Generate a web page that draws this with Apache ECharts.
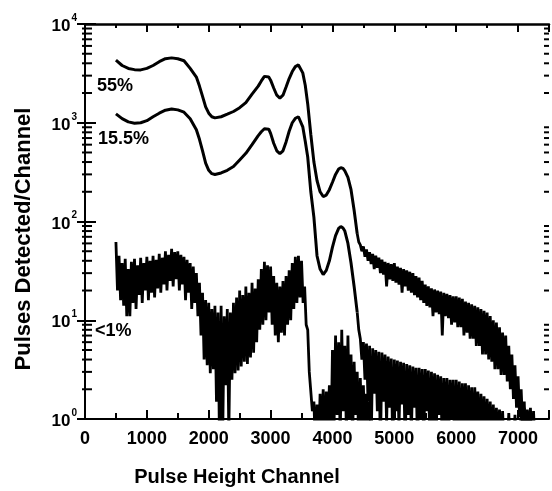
<!DOCTYPE html>
<html>
<head>
<meta charset="utf-8">
<script src="https://cdn.jsdelivr.net/npm/echarts@6/dist/echarts.min.js"></script>
<style>
html,body{margin:0;padding:0;background:#fff;}
#chart{width:552px;height:491px;background:#fff;}
</style>
</head>
<body>
<div id="chart"></div>
<script>
// ---------- DATA ----------
// smooth parts of the two upper spectra (channel, counts)
const smoothChannels = [500,600,700,800,900,1000,1100,1200,1300,1400,1500,1600,1700,1800,1850,1900,1950,2000,2050,2100,2200,2300,2400,2500,2600,2700,2800,2850,2900,2930,2970,3000,3050,3100,3150,3200,3250,3300,3350,3400,3450,3480,3520,3560,3600,3650,3700,3750,3800,3850,3900,3950,4000,4050,4100,4135,4170,4200,4250,4300,4350,4400];
const smooth55 = [4300,3800,3550,3450,3430,3550,3800,4150,4450,4540,4450,4250,3550,2900,2350,1850,1450,1250,1150,1120,1150,1220,1300,1420,1600,1950,2350,2650,2950,2985,2900,2700,2250,1900,1780,1900,2300,2800,3300,3700,3850,3800,3200,2400,1550,760,400,260,200,179,185,210,250,300,340,351,345,325,280,210,130,75];
const smooth155 = [1230,1100,1020,990,1000,1050,1150,1250,1340,1380,1350,1280,1100,850,680,520,390,330,305,299,310,330,360,420,490,600,740,810,870,890,860,780,620,520,486,520,640,820,1000,1110,1150,1120,910,650,450,200,110,45,33,29,32,40,55,72,85,89,86,80,60,38,22,12];

// noisy tails, one value every 25 channels
const tailStep = 25;
const tail55Start = 4425;
const tail55 = [62,58,50,56,44,52,40,49,37,47,33,45,34,43,30,41,29,39,22,38,26,37,25,38,24,35,23,34,19,33,22,32,20,31,19,30,18,28,17,27,16,25,15,23,14,22,13.5,21,11,20.5,12,20,11.5,19.5,7,19,11,18.5,10.5,18,9,17.5,9.5,17.5,8.5,17,8.5,16.5,7,15.5,7.5,15,6.5,14.5,6.5,14,5.5,13.5,5.5,13,4.5,12.5,4.5,12,4,11,3.8,10,3.2,9.5,3.2,8.5,2.8,7.5,2.8,7,2.4,5.5,2,4.5,1.6,3.5,1.3,2.7,1.05,2,0.8,1.5,0.5,1.2,0.5,1.1,0.5];
const tail155Start = 4425;
const tail155 = [8,6.5,4,6,2.5,5.8,1.5,5.5,0.5,5.2,1.8,5,1.2,4.8,0.5,4.7,1.5,4.5,0.9,4.3,1.3,4.1,0.5,4,1.2,3.9,0.8,3.8,1.4,3.7,0.5,3.6,1.1,3.5,0.7,3.4,1.3,3.3,0.5,3.3,1,3.2,0.6,3.2,1.2,3.1,0.5,3,0.9,2.9,0.6,2.8,1.1,2.7,0.5,2.6,0.8,2.6,0.5,2.5,1,2.5,0.5,2.5,0.7,2.4,0.5,2.3,0.9,2.3,0.5,2.2,0.6,2.1,0.5,2.1,0.8,1.9,0.5,1.8,0.6,1.7,0.5,1.6,0.5,1.5,0.5,1.4,0.5,1.3,0.5,1.25,0.5,1.2,0.5,0.8,0.5,1.15,0.5,0.7,0.5,1.1,0.5,0.8,0.5,1.2,0.5,1.3,0.5,1.25,0.5,1.3,0.5,1.2,0.5];

// the "<1%" spectrum, noisy everywhere
const low1Start = 500;
const low1 = [62,20,45,16,38,14,42,11,33,11,39,15,42,13,36,18,43,15,38,20,44,16,40,19,45,17,41,21,47,19,43,23,50,20,46,25,53,22,49,26,50,20,46,23,44,16,41,19,38,13,35,15,30,11,24,7,19,4,16,3.5,15,2.9,13,3.2,14,1.5,12,0.5,14,0.6,11,2.2,13,0.7,12,2.5,15,2.9,17,3.1,20,3.4,18,3.8,22,3.6,19,4.2,24,4.7,21,6,26,8,33,9,39,10,36,12,35,9,28,7,24,6,22,7.5,25,7,28,9,32,10,38,13,44,15,45,17,40,15,22,9,8,3,3,1.2,1.5,0.5,1.4,0.5,1.8,0.6,2,0.5,1.9,0.7,2.2,0.5,5,0.8,7,1.1,6,0.6,8,1.2,5.5,0.7,7,1,4.5,0.6,3.8,1.1,3,0.5,2.6,0.8,2.2,0.6,1.8,0.5,1.5];

// minor tick values of the log axis (2..9 in every decade)
const yMinorTickValues = [2,3,4,5,6,7,8,9,20,30,40,50,60,70,80,90,200,300,400,500,600,700,800,900,2000,3000,4000,5000,6000,7000,8000,9000];
const xMin = 0, xMax = 7500, yMin = 1, yMax = 10000;

const seriesLabels = ['55%', '15.5%', '<1%'];
const xTitle = 'Pulse Height Channel';
const yTitle = 'Pulses Detected/Channel';

// ---------- BUILD ----------
function pairs(chs, vals){ return chs.map((c,i)=>[c, vals[i]]); }
function seq(start, step, vals){ return vals.map((v,i)=>[start + i*step, v]); }

const s55 = pairs(smoothChannels, smooth55);
const s155 = pairs(smoothChannels, smooth155);
const t55 = [s55[s55.length-1]].concat(seq(tail55Start, tailStep, tail55));
const t155 = [s155[s155.length-1]].concat(seq(tail155Start, tailStep, tail155));
const lowData = seq(low1Start, tailStep, low1);

const FONT = '"Liberation Sans", Arial, Helvetica, sans-serif';
const chart = echarts.init(document.getElementById('chart'), null, {renderer:'canvas'});

function lineSeries(data, width){
  return {type:'line', data:data, showSymbol:false, symbol:'none', smooth:false, sampling:null,
    lineStyle:{color:'#000', width:width}, itemStyle:{color:'#000'}, clip:true, silent:true,
    xAxisIndex:0, yAxisIndex:0, z:3};
}

// log-axis minor ticks as small rect symbols (left and right side)
const minorLeft = yMinorTickValues.map(v => [xMin, v]);
const minorRight = yMinorTickValues.map(v => [xMax, v]);
function tickSeries(data, size, offset){
  return {type:'scatter', data:data, symbol:'rect', symbolSize:size, symbolOffset:offset,
    itemStyle:{color:'#000', opacity:1}, clip:false, silent:true,
    xAxisIndex:0, yAxisIndex:0, z:4};
}

const tickLine = {color:'#000', width:2};

const option = {
  animation:false,
  grid:{left:85, right:2, top:24, bottom:72, containLabel:false},
  xAxis:[
    {type:'value', min:xMin, max:xMax, interval:1000, position:'bottom',
     axisLine:{show:true, lineStyle:{color:'#000', width:2}},
     axisTick:{show:true, inside:true, length:9, lineStyle:tickLine},
     minorTick:{show:true, splitNumber:2, length:6, lineStyle:tickLine},
     splitLine:{show:false}, minorSplitLine:{show:false},
     axisLabel:{show:true, margin:11, color:'#000', fontSize:18, fontWeight:'bold', fontFamily:FONT,
       formatter:function(v){ return v > 7000 ? '' : String(v); }}},
    {type:'value', min:xMin, max:xMax, interval:1000, position:'top',
     axisLine:{show:true, lineStyle:{color:'#000', width:2.5}},
     axisTick:{show:true, inside:true, length:8, lineStyle:tickLine},
     minorTick:{show:true, splitNumber:2, length:4, lineStyle:tickLine},
     splitLine:{show:false}, axisLabel:{show:false}}
  ],
  yAxis:[
    {type:'log', logBase:10, min:yMin, max:yMax, position:'left',
     axisLine:{show:true, lineStyle:{color:'#000', width:2}},
     axisTick:{show:true, inside:true, length:11, lineStyle:tickLine},
     splitLine:{show:false},
     axisLabel:{show:true, margin:8, color:'#000',
       formatter:function(v){ return '{b|10}{s|' + Math.round(Math.log10(v)) + '}'; },
       rich:{
         b:{fontSize:17, fontWeight:'bold', fontFamily:FONT, color:'#000', lineHeight:22, verticalAlign:'bottom'},
         s:{fontSize:10, fontWeight:'bold', fontFamily:FONT, color:'#000', lineHeight:12, verticalAlign:'top', padding:[0,0,0,1]}
       }}},
    {type:'log', logBase:10, min:yMin, max:yMax, position:'right',
     axisLine:{show:true, lineStyle:{color:'#000', width:2}},
     axisTick:{show:true, inside:true, length:8, lineStyle:tickLine},
     splitLine:{show:false}, axisLabel:{show:false}}
  ],
  series:[
    lineSeries(s55, 3),
    lineSeries(t55, 2.8),
    lineSeries(s155, 3),
    lineSeries(t155, 2.8),
    lineSeries(lowData, 2.8),
    tickSeries(minorLeft, [10,2], [2,0]),
    tickSeries(minorRight, [5,2], [-2.5,0])
  ],
  graphic:[
    {type:'text', x:97, y:86, style:{text:seriesLabels[0], font:'bold 18px ' + FONT, fill:'#000', textVerticalAlign:'middle'}},
    {type:'text', x:98, y:139, style:{text:seriesLabels[1], font:'bold 18px ' + FONT, fill:'#000', textVerticalAlign:'middle'}},
    {type:'text', x:95, y:331, style:{text:seriesLabels[2], font:'bold 18px ' + FONT, fill:'#000', textVerticalAlign:'middle'}},
    {type:'text', x:237, y:477, style:{text:xTitle, font:'bold 20px ' + FONT, fill:'#000', textAlign:'center', textVerticalAlign:'middle'}},
    {type:'text', x:24, y:239, rotation:Math.PI/2, style:{text:yTitle, font:'bold 22px ' + FONT, fill:'#000', textAlign:'center', textVerticalAlign:'middle'}}
  ]
};
chart.setOption(option);
</script>
</body>
</html>
